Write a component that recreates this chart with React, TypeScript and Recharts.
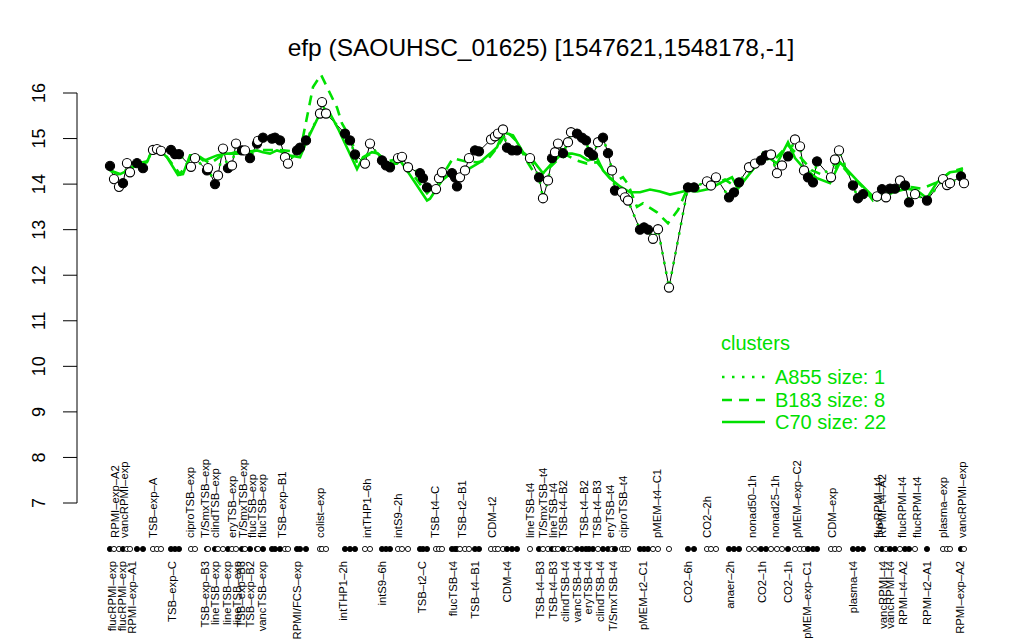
import React from 'react';
import { ComposedChart, Line, Scatter, XAxis, YAxis, ReferenceLine, Legend } from 'recharts';

const GREEN = '#00e000';
const FONT = '"Liberation Sans", Arial, Helvetica, sans-serif';
const TITLE = 'efp (SAOUHSC_01625) [1547621,1548178,-1]';

const pointX = [
  110,114,119,123,127,130,137,143,153,157,
  161,171,175,179,191,195,207,208,215,218,
  223,228,232,236,242,245,250,257,258,263,
  272,275,280,285,288,297,300,306,320,322,
  326,345,350,355,365,370,382,386,390,398,
  402,408,420,423,427,436,439,442,452,455,
  457,460,465,469,475,479,491,495,498,503,
  507,512,517,530,539,543,548,552,555,558,
  563,568,571,577,582,586,589,593,598,603,
  608,612,615,622,625,628,640,644,648,653,
  658,669,688,694,707,711,716,729,734,739,
  749,755,761,766,771,777,782,788,795,800,
  804,808,813,817,831,835,839,853,858,863,
  877,882,886,890,895,900,905,909,915,927,
  943,947,950,961,964,
];
const pointValue = [
  14.40,14.11,13.94,14.02,14.46,14.26,14.46,14.35,14.75,14.77,
  14.73,14.75,14.66,14.66,14.38,14.57,14.30,14.35,14.00,14.19,
  14.78,14.35,14.41,14.89,14.74,14.74,14.57,14.89,14.95,15.02,
  15.00,15.02,14.96,14.59,14.45,14.74,14.80,14.96,15.55,15.80,
  15.55,15.11,14.96,14.65,14.45,14.89,14.52,14.41,14.37,14.57,
  14.60,14.37,14.24,14.13,13.93,13.89,14.13,14.26,14.24,14.15,
  13.95,14.15,14.30,14.57,14.74,14.72,14.98,15.05,15.11,15.20,
  14.80,14.74,14.74,14.57,14.15,13.69,14.08,14.57,14.70,14.89,
  14.68,14.92,15.14,15.11,15.02,14.96,14.70,14.63,14.92,15.02,
  14.68,14.30,13.86,13.82,13.71,13.64,13.00,13.05,13.00,12.80,
  13.01,11.73,13.93,13.93,14.06,13.97,14.15,13.71,13.82,14.04,
  14.37,14.45,14.52,14.63,14.65,14.24,14.41,14.61,14.98,14.83,
  14.30,14.15,14.04,14.50,14.15,14.54,14.74,13.97,13.69,13.78,
  13.73,13.89,13.71,13.90,13.90,14.08,13.97,13.60,13.78,13.64,
  14.11,13.98,14.02,14.17,14.02,
];
const pointFilled = [
  1,0,0,1,0,0,1,1,0,0,
  0,1,1,1,0,0,1,0,1,0,
  0,1,0,0,1,0,1,1,0,1,
  1,1,1,0,0,1,1,1,0,0,
  0,1,1,1,0,0,1,1,1,0,
  0,0,1,1,1,0,0,0,1,1,
  1,0,0,0,1,1,0,0,0,0,
  1,1,1,0,1,0,0,1,0,0,
  1,0,0,1,1,1,1,1,0,1,
  1,0,1,0,0,0,1,1,1,0,
  0,0,1,1,0,0,0,1,1,1,
  0,0,1,1,0,0,0,1,0,0,
  0,1,1,1,0,0,0,1,1,1,
  0,1,0,1,1,0,1,1,0,1,
  0,0,0,1,0,
];

const c70X = [
  110,120,128,137,147,152,158,167,178,183,
  190,197,203,207,217,227,237,247,257,263,
  270,277,283,290,300,307,320,330,338,357,
  363,372,378,387,397,400,407,427,430,442,
  452,460,470,480,490,497,503,513,523,533,
  543,553,562,572,580,588,597,603,610,620,
  630,640,650,660,670,680,687,697,710,720,
  732,738,750,760,763,777,788,795,803,817,
  830,840,857,867,877,893,907,917,927,937,
  950,963,
];
const c70Value = [
  14.30,14.22,14.30,14.42,14.48,14.74,14.78,14.59,14.20,14.22,
  14.63,14.63,14.52,14.54,14.63,14.67,14.67,14.70,14.74,14.70,
  14.67,14.74,14.70,14.63,14.59,14.96,15.55,15.55,15.22,14.33,
  14.59,14.70,14.67,14.45,14.45,14.52,14.30,13.64,13.68,14.08,
  14.26,14.19,14.35,14.48,14.67,14.81,15.14,15.07,14.70,14.52,
  14.24,14.48,14.67,14.67,14.63,14.52,14.57,14.30,14.13,13.95,
  13.82,13.82,13.88,13.84,13.77,13.82,13.86,13.84,13.90,14.02,
  14.15,13.90,14.24,14.52,14.68,14.45,14.92,14.57,14.37,14.13,
  14.02,14.48,14.08,13.86,13.64,13.82,13.90,13.86,13.69,14.04,
  14.26,14.30,
];

const b183X = [
  110,120,137,147,155,165,180,190,200,210,
  220,235,250,265,280,300,313,321,337,342,
  352,357,365,375,387,400,410,427,440,453,
  465,477,487,497,507,517,527,537,547,557,
  567,577,587,597,610,617,623,628,637,643,
  657,668,678,688,700,712,725,735,750,762,
  775,788,800,812,823,832,838,850,863,873,
  887,900,913,922,937,950,963,
];
const b183Value = [
  14.30,14.20,14.45,14.50,14.74,14.65,14.22,14.55,14.60,14.45,
  14.60,14.70,14.72,14.75,14.75,14.70,16.13,16.40,15.68,15.33,
  14.95,14.45,14.60,14.72,14.50,14.55,14.30,13.80,14.10,14.57,
  14.50,14.48,14.52,14.80,15.15,14.93,14.50,14.15,14.30,14.52,
  14.63,14.52,14.45,14.48,14.13,14.08,14.15,14.00,13.50,13.58,
  13.38,13.14,13.43,13.93,13.90,13.98,14.10,13.95,14.25,14.55,
  14.55,14.85,14.60,14.30,14.20,14.10,14.50,14.20,13.93,13.64,
  13.82,13.95,13.93,13.90,14.04,14.26,14.35,
];

const topLabelX = [
  115,124,153,190,205,215,232,243,252,262,282,320,367,398,435,462,492,
  530,543,553,563,584,597,610,623,657,707,752,775,797,832,878,882,902,917,943,962,
];
const topLabelText = [
  'RPMI\u2013exp\u2013A2','vancRPMI\u2013exp','TSB\u2013exp\u2013A','ciproTSB\u2013exp','T/SmxTSB\u2013exp',
  'clindTSB\u2013exp','eryTSB\u2013exp','T/SmxTSB\u2013exp','flucTSB\u2013exp','flucTSB\u2013exp',
  'TSB\u2013exp\u2013B1','colist\u2013exp','intTHP1\u20136h','intS9\u20132h','TSB\u2013t4\u2013C',
  'TSB\u2013t2\u2013B1','CDM\u2013t2','lineTSB\u2013t4','T/SmxTSB\u2013t4','lineTSB\u2013t4',
  'TSB\u2013t4\u2013B2','TSB\u2013t4\u2013B2','TSB\u2013t4\u2013B3','eryTSB\u2013t4','ciproTSB\u2013t4',
  'pMEM\u2013t4\u2013C1','CO2\u20132h','nonad50\u20131h','nonad25\u20131h','pMEM\u2013exp\u2013C2',
  'CDM\u2013exp','flucRPMI\u2013t4','RPMI\u2013t4\u2013A2','flucRPMI\u2013t4','flucRPMI\u2013t4',
  'plasma\u2013exp','vancRPMI\u2013exp',
];
const bottomLabelX = [
  112,122,132,172,205,215,227,237,241,250,262,297,343,382,422,453,475,507,
  540,553,565,577,588,600,613,643,688,730,762,788,807,853,883,890,903,927,960,
];
const bottomLabelText = [
  'flucRPMI\u2013exp','flucRPMI\u2013exp','RPMI\u2013exp\u2013A1','TSB\u2013exp\u2013C','TSB\u2013exp\u2013B3',
  'lineTSB\u2013exp','lineTSB\u2013exp','lineTSB\u2013exp','TSB\u2013exp\u2013B3','TSB\u2013exp\u2013B2',
  'vancTSB\u2013exp','RPMI/FCS\u2013exp','intTHP1\u20132h','intS9\u20136h','TSB\u2013t2\u2013C',
  'flucTSB\u2013t4','TSB\u2013t4\u2013B1','CDM\u2013t4','TSB\u2013t4\u2013B3','TSB\u2013t4\u2013B3',
  'clindTSB\u2013t4','vancTSB\u2013t4','eryTSB\u2013t4','clindTSB\u2013t4','T/SmxTSB\u2013t4',
  'pMEM\u2013t2\u2013C1','CO2\u20136h','anaer\u20132h','CO2\u20131h','CO2\u20131h',
  'pMEM\u2013exp\u2013C1','plasma\u2013t4','vancRPMI\u2013t4','vancRPMI\u2013t4','RPMI\u2013t4\u2013A2',
  'RPMI\u2013t2\u2013A1','RPMI\u2013exp\u2013A2',
];

const yTicks = [7, 8, 9, 10, 11, 12, 13, 14, 15, 16];
const legendTitle = 'clusters';
const legendNames = ['A855 size: 1', 'B183 size: 8', 'C70 size: 22'];

const points = pointX.map((x, i) => ({ x, v: pointValue[i], filled: pointFilled[i] === 1 }));
const c70 = c70X.map((x, i) => ({ x, v: c70Value[i] }));
const b183 = b183X.map((x, i) => ({ x, v: b183Value[i] }));
const topMap = new Map(topLabelX.map((x, i) => [x, topLabelText[i]]));
const botMap = new Map(bottomLabelX.map((x, i) => [x, bottomLabelText[i]]));
const fillMap = new Map(pointX.map((x, i) => [x, pointFilled[i] === 1]));
const allTicks = Array.from(new Set([...pointX, ...topLabelX, ...bottomLabelX])).sort((a, b) => a - b);

const XDOM: [number, number] = [100, 975];
const LABEL_FS = 11.3;

const YTick = (props: any) => {
  const { y, payload } = props;
  return (
    <g>
      <line x1={63} x2={77} y1={y} y2={y} stroke="#000" strokeWidth={1} />
      <text x={39} y={y} transform={`rotate(-90, 39, ${y})`} textAnchor="middle" dy="0.35em"
        fontSize={18} fontFamily={FONT} fill="#000">{payload.value}</text>
    </g>
  );
};

const XTick = (props: any) => {
  const { x, payload } = props;
  const v = payload.value;
  const top = topMap.get(v);
  const bot = botMap.get(v);
  const hasPoint = fillMap.has(v);
  const f = fillMap.get(v);
  return (
    <g>
      {top !== undefined && (
        <text x={x} y={538} transform={`rotate(-90, ${x}, 538)`} textAnchor="start" dy="0.35em"
          fontSize={LABEL_FS} fontFamily={FONT} fill="#000">{top}</text>
      )}
      {bot !== undefined && (
        <text x={x} y={561} transform={`rotate(-90, ${x}, 561)`} textAnchor="end" dy="0.35em"
          fontSize={LABEL_FS} fontFamily={FONT} fill="#000">{bot}</text>
      )}
      {hasPoint && (
        <circle cx={x} cy={549} r={2.6} fill={f ? '#000' : '#fff'} stroke="#000" strokeWidth={0.9} />
      )}
    </g>
  );
};

const PointShape = (props: any) => {
  const { cx, cy, payload } = props;
  return <circle cx={cx} cy={cy} r={4.6} fill={payload.filled ? '#000' : '#fff'} stroke="#000" strokeWidth={1.1} />;
};

const LegendContent = () => (
  <svg width={240} height={110} style={{ display: 'block' }}>
    <text x={6} y={13} dy="0.35em" fontSize={20} fontFamily={FONT} fill={GREEN}>{legendTitle}</text>
    <line x1={7} x2={50} y1={47} y2={47} stroke={GREEN} strokeWidth={2.5} strokeDasharray="2.5 7.5" />
    <line x1={7} x2={50} y1={70} y2={70} stroke={GREEN} strokeWidth={2.5} strokeDasharray="10 7" />
    <line x1={7} x2={50} y1={92} y2={92} stroke={GREEN} strokeWidth={2.5} />
    {legendNames.map((n, i) => (
      <text key={n} x={60} y={[47, 70, 92][i]} dy="0.35em" fontSize={20} fontFamily={FONT} fill={GREEN}>{n}</text>
    ))}
  </svg>
);

export default function App() {
  return (
    <div style={{ position: 'absolute', left: 0, top: 0, width: 1024, height: 640, background: '#fff', overflow: 'hidden' }}>
      <div style={{ position: 'absolute', left: 141, top: 33, width: 800, textAlign: 'center',
        fontFamily: FONT, fontSize: 24.5, color: '#000', lineHeight: '30px', whiteSpace: 'nowrap' }}>{TITLE}</div>
      <ComposedChart width={1024} height={640} margin={{ top: 72.5, right: 49, bottom: 0, left: 0 }}>
        <XAxis dataKey="x" type="number" domain={XDOM} allowDataOverflow ticks={allTicks} interval={0}
          height={120.6} axisLine={false} tickLine={false} tick={<XTick />} />
        <YAxis type="number" domain={[6.64, 16.45]} allowDataOverflow ticks={yTicks} interval={0}
          width={100} axisLine={false} tickLine={false} tick={<YTick />} />
        <ReferenceLine segment={[{ x: 77, y: 7 }, { x: 77, y: 16 }]} stroke="#000" strokeWidth={1} ifOverflow="visible" />
        <Line data={points} dataKey="v" stroke="#000" strokeWidth={1} dot={false} isAnimationActive={false} legendType="none" />
        <Line data={c70} dataKey="v" stroke={GREEN} strokeWidth={2.6} dot={false} isAnimationActive={false} legendType="none" />
        <Line data={b183} dataKey="v" stroke={GREEN} strokeWidth={2.6} strokeDasharray="10 7" dot={false} isAnimationActive={false} legendType="none" />
        <Line data={points} dataKey="v" stroke={GREEN} strokeWidth={2.6} strokeDasharray="2.5 7.5" dot={false} isAnimationActive={false} legendType="none" />
        <Scatter data={points} dataKey="v" shape={<PointShape />} isAnimationActive={false} legendType="none" />
        <Legend layout="vertical" align="center" verticalAlign="middle" content={<LegendContent />}
          wrapperStyle={{ position: 'absolute', left: 715, top: 330, width: 240, height: 110 }} />
      </ComposedChart>
    </div>
  );
}
